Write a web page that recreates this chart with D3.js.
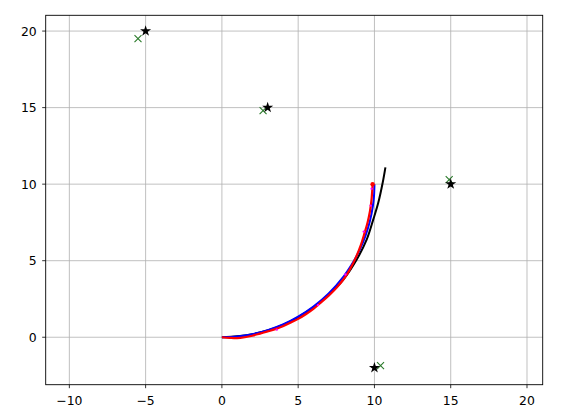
<!DOCTYPE html>
<html>
<head>
<meta charset="utf-8">
<script src="https://cdn.jsdelivr.net/npm/d3@7"></script>
<style>
  body { margin: 0; background: #fff; }
  text { font-family: "DejaVu Sans", sans-serif; }
</style>
</head>
<body>
<svg id="chart" width="570" height="419"></svg>
<script>
// targets (black stars) and estimated positions (green crosses)
const targets = [[-5, 20], [3, 15], [15, 10], [10, -2]];
const estimates = [[-5.5, 19.5], [2.7, 14.8], [14.9, 10.3], [10.4, -1.85]];

// reference path (blue)
const truePath = [[0, 0], [1, 0.05], [2, 0.2], [3, 0.46], [4, 0.83], [5, 1.34], [6, 2.0],
  [7, 2.86], [8, 4.0], [8.5, 4.73], [9, 5.64], [9.4, 6.59], [9.7, 7.57], [9.9, 8.59],
  [9.97, 9.2], [10, 10]];

// noisy estimated path (red)
const estPath = [[0, 0], [0.5, -0.04], [1, -0.06], [1.5, 0.0], [2, 0.1], [2.5, 0.24], [3, 0.38],
  [3.5, 0.53], [4, 0.72], [4.5, 0.95], [5, 1.2], [5.5, 1.5], [6, 1.85], [6.5, 2.28], [7, 2.72],
  [7.5, 3.22], [8, 3.82], [8.4, 4.45], [8.8, 5.25], [9.1, 6.0], [9.35, 6.8], [9.55, 7.5],
  [9.7, 8.2], [9.8, 8.9], [9.85, 9.5], [9.88, 10.0]];

// odometry path (black)
const odoPath = [[0, 0], [2, 0.2], [4, 0.8], [6, 1.95], [7, 2.78], [7.95, 3.75], [8.83, 5.06],
  [9.49, 6.37], [9.92, 7.68], [10.25, 8.78], [10.54, 10.09], [10.72, 11.1]];

// measurement dots (magenta)
const meas = [[3.6, 0.5], [6.3, 2.1], [8.1, 4.1], [9.3, 6.9], [9.75, 8.6], [9.82, 9.7]];

const xTicks = [-10, -5, 0, 5, 10, 15, 20];
const yTicks = [0, 5, 10, 15, 20];

const svg = d3.select("#chart");
const padL = 45.7, padR = 542.7, padT = 15.3, padB = 384.7;

const x = d3.scaleLinear().domain([-11.55, 21.03]).range([padL, padR]);
const y = d3.scaleLinear().domain([-3.1, 21.03]).range([padB, padT]);

// grid
svg.append("g").selectAll("line").data(xTicks).join("line")
  .attr("x1", d => x(d)).attr("x2", d => x(d))
  .attr("y1", padT).attr("y2", padB)
  .attr("stroke", "#b0b0b0").attr("stroke-width", 0.8);
svg.append("g").selectAll("line").data(yTicks).join("line")
  .attr("y1", d => y(d)).attr("y2", d => y(d))
  .attr("x1", padL).attr("x2", padR)
  .attr("stroke", "#b0b0b0").attr("stroke-width", 0.8);

const line = d3.line().x(d => x(d[0])).y(d => y(d[1])).curve(d3.curveCatmullRom);

svg.append("path").datum(odoPath).attr("d", line)
  .attr("fill", "none").attr("stroke", "#000").attr("stroke-width", 2);
svg.append("path").datum(truePath).attr("d", line)
  .attr("fill", "none").attr("stroke", "#0000ff").attr("stroke-width", 2);
svg.append("path").datum(estPath).attr("d", line)
  .attr("fill", "none").attr("stroke", "#ff0000").attr("stroke-width", 2.2);

svg.append("circle")
  .attr("cx", x(estPath[estPath.length - 1][0]))
  .attr("cy", y(estPath[estPath.length - 1][1]))
  .attr("r", 2.2).attr("fill", "#ff0000");

svg.append("g").selectAll("circle").data(meas).join("circle")
  .attr("cx", d => x(d[0])).attr("cy", d => y(d[1]))
  .attr("r", 1.2).attr("fill", "#ff00ff");

// crosses
const cr = 3.5;
svg.append("g").selectAll("path").data(estimates).join("path")
  .attr("d", d => {
    const cx = x(d[0]), cy = y(d[1]);
    return `M${cx - cr},${cy - cr}L${cx + cr},${cy + cr}M${cx - cr},${cy + cr}L${cx + cr},${cy - cr}`;
  })
  .attr("stroke", "#2a7a2a").attr("stroke-width", 1.1).attr("fill", "none");

// stars
const star = d3.symbol().type(d3.symbolStar).size(38);
svg.append("g").selectAll("path").data(targets).join("path")
  .attr("d", star)
  .attr("transform", d => `translate(${x(d[0])},${y(d[1])})`)
  .attr("fill", "#000");

// frame
svg.append("rect").attr("x", padL).attr("y", padT)
  .attr("width", padR - padL).attr("height", padB - padT)
  .attr("fill", "none").attr("stroke", "#000").attr("stroke-width", 0.9);

// axes
const xAxis = svg.append("g").attr("transform", `translate(0,${padB})`);
xAxis.selectAll("line").data(xTicks).join("line")
  .attr("x1", d => x(d)).attr("x2", d => x(d)).attr("y1", 0).attr("y2", 3.5)
  .attr("stroke", "#000").attr("stroke-width", 0.8);
xAxis.selectAll("text").data(xTicks).join("text")
  .attr("x", d => x(d)).attr("y", 20)
  .attr("text-anchor", "middle").attr("font-size", 12.4)
  .text(d => d < 0 ? "\u2212" + Math.abs(d) : d);

const yAxis = svg.append("g").attr("transform", `translate(${padL},0)`);
yAxis.selectAll("line").data(yTicks).join("line")
  .attr("y1", d => y(d)).attr("y2", d => y(d)).attr("x1", -3.5).attr("x2", 0)
  .attr("stroke", "#000").attr("stroke-width", 0.8);
yAxis.selectAll("text").data(yTicks).join("text")
  .attr("x", -9).attr("y", d => y(d)).attr("dy", "0.36em")
  .attr("text-anchor", "end").attr("font-size", 12.4)
  .text(d => d);
</script>
</body>
</html>
